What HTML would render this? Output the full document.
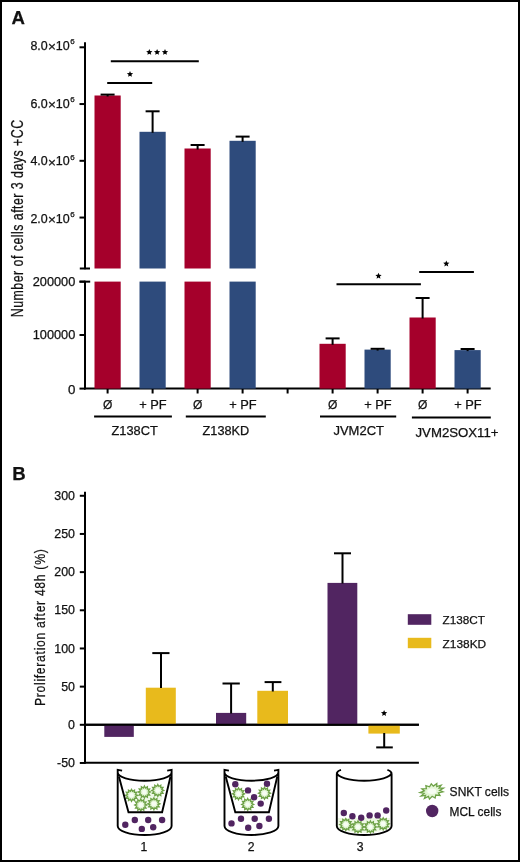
<!DOCTYPE html>
<html><head><meta charset="utf-8"><style>
html,body{margin:0;padding:0;background:#fff;}
svg{display:block;font-family:"Liberation Sans",sans-serif;}
text{fill:#111;stroke:#111;stroke-width:0.25px;}
svg{will-change:transform;}
</style></head><body>
<svg width="520" height="862" viewBox="0 0 520 862">
<rect x="0" y="0" width="520" height="862" fill="#fff"/>
<text x="11.6" y="24" font-size="18.6" text-anchor="start" font-weight="bold" >A</text>
<line x1="85" y1="42.2" x2="85" y2="269.2" stroke="#000" stroke-width="2" stroke-linecap="butt"/>
<line x1="79.5" y1="47.3" x2="85" y2="47.3" stroke="#000" stroke-width="2" stroke-linecap="butt"/>
<text x="30.45" y="50.300000000000004" font-size="12.2" text-anchor="start" font-weight="normal" textLength="17.3" lengthAdjust="spacingAndGlyphs" >8.0</text>
<text x="47.9" y="51.45" font-size="13.6" text-anchor="start" font-weight="normal" >×</text>
<text x="55.7" y="50.300000000000004" font-size="12.2" text-anchor="start" font-weight="normal" textLength="13.9" lengthAdjust="spacingAndGlyphs" >10</text>
<text x="70.3" y="44.45" font-size="8.0" text-anchor="start" font-weight="normal" >6</text>
<line x1="79.5" y1="104.05" x2="85" y2="104.05" stroke="#000" stroke-width="2" stroke-linecap="butt"/>
<text x="30.45" y="107.85" font-size="12.2" text-anchor="start" font-weight="normal" textLength="17.3" lengthAdjust="spacingAndGlyphs" >6.0</text>
<text x="47.9" y="109.0" font-size="13.6" text-anchor="start" font-weight="normal" >×</text>
<text x="55.7" y="107.85" font-size="12.2" text-anchor="start" font-weight="normal" textLength="13.9" lengthAdjust="spacingAndGlyphs" >10</text>
<text x="70.3" y="102.0" font-size="8.0" text-anchor="start" font-weight="normal" >6</text>
<line x1="79.5" y1="160.8" x2="85" y2="160.8" stroke="#000" stroke-width="2" stroke-linecap="butt"/>
<text x="30.45" y="165.45" font-size="12.2" text-anchor="start" font-weight="normal" textLength="17.3" lengthAdjust="spacingAndGlyphs" >4.0</text>
<text x="47.9" y="166.6" font-size="13.6" text-anchor="start" font-weight="normal" >×</text>
<text x="55.7" y="165.45" font-size="12.2" text-anchor="start" font-weight="normal" textLength="13.9" lengthAdjust="spacingAndGlyphs" >10</text>
<text x="70.3" y="159.6" font-size="8.0" text-anchor="start" font-weight="normal" >6</text>
<line x1="79.5" y1="217.55" x2="85" y2="217.55" stroke="#000" stroke-width="2" stroke-linecap="butt"/>
<text x="30.45" y="223.15" font-size="12.2" text-anchor="start" font-weight="normal" textLength="17.3" lengthAdjust="spacingAndGlyphs" >2.0</text>
<text x="47.9" y="224.3" font-size="13.6" text-anchor="start" font-weight="normal" >×</text>
<text x="55.7" y="223.15" font-size="12.2" text-anchor="start" font-weight="normal" textLength="13.9" lengthAdjust="spacingAndGlyphs" >10</text>
<text x="70.3" y="217.3" font-size="8.0" text-anchor="start" font-weight="normal" >6</text>
<line x1="79.8" y1="268.5" x2="90" y2="268.5" stroke="#000" stroke-width="2" stroke-linecap="butt"/>
<line x1="79.5" y1="281.65" x2="90.2" y2="281.65" stroke="#000" stroke-width="2" stroke-linecap="butt"/>
<line x1="85" y1="280.65" x2="85" y2="389.6" stroke="#000" stroke-width="2" stroke-linecap="butt"/>
<line x1="79.5" y1="281.65" x2="85" y2="281.65" stroke="#000" stroke-width="2" stroke-linecap="butt"/>
<text x="32.7" y="285.75" font-size="12" text-anchor="start" font-weight="normal" textLength="42.6" lengthAdjust="spacingAndGlyphs" >200000</text>
<line x1="79.5" y1="335.0" x2="85" y2="335.0" stroke="#000" stroke-width="2" stroke-linecap="butt"/>
<text x="32.7" y="338.9" font-size="12" text-anchor="start" font-weight="normal" textLength="42.6" lengthAdjust="spacingAndGlyphs" >100000</text>
<line x1="79.5" y1="388.6" x2="85" y2="388.6" stroke="#000" stroke-width="2" stroke-linecap="butt"/>
<text x="67.9" y="393.6" font-size="12" text-anchor="start" font-weight="normal" textLength="7.4" lengthAdjust="spacingAndGlyphs" >0</text>
<line x1="84" y1="388.6" x2="490.7" y2="388.6" stroke="#000" stroke-width="2" stroke-linecap="butt"/>
<line x1="107.6" y1="388" x2="107.6" y2="393.5" stroke="#000" stroke-width="2" stroke-linecap="butt"/>
<line x1="152.6" y1="388" x2="152.6" y2="393.5" stroke="#000" stroke-width="2" stroke-linecap="butt"/>
<line x1="197.6" y1="388" x2="197.6" y2="393.5" stroke="#000" stroke-width="2" stroke-linecap="butt"/>
<line x1="242.6" y1="388" x2="242.6" y2="393.5" stroke="#000" stroke-width="2" stroke-linecap="butt"/>
<line x1="287.6" y1="388" x2="287.6" y2="393.5" stroke="#000" stroke-width="2" stroke-linecap="butt"/>
<line x1="332.6" y1="388" x2="332.6" y2="393.5" stroke="#000" stroke-width="2" stroke-linecap="butt"/>
<line x1="377.6" y1="388" x2="377.6" y2="393.5" stroke="#000" stroke-width="2" stroke-linecap="butt"/>
<line x1="422.6" y1="388" x2="422.6" y2="393.5" stroke="#000" stroke-width="2" stroke-linecap="butt"/>
<line x1="467.6" y1="388" x2="467.6" y2="393.5" stroke="#000" stroke-width="2" stroke-linecap="butt"/>
<rect x="94.5" y="95.5" width="26.2" height="173.0" fill="#a5002b"/>
<rect x="94.5" y="281.6" width="26.2" height="107.0" fill="#a5002b"/>
<line x1="107.6" y1="94.6" x2="107.6" y2="96.5" stroke="#000" stroke-width="2" stroke-linecap="butt"/>
<line x1="100.6" y1="94.6" x2="114.6" y2="94.6" stroke="#000" stroke-width="2" stroke-linecap="butt"/>
<rect x="139.5" y="131.8" width="26.2" height="136.7" fill="#2e4b7c"/>
<rect x="139.5" y="281.6" width="26.2" height="107.0" fill="#2e4b7c"/>
<line x1="152.6" y1="111.3" x2="152.6" y2="132.8" stroke="#000" stroke-width="2" stroke-linecap="butt"/>
<line x1="145.6" y1="111.3" x2="159.6" y2="111.3" stroke="#000" stroke-width="2" stroke-linecap="butt"/>
<rect x="184.5" y="148.5" width="26.2" height="120.0" fill="#a5002b"/>
<rect x="184.5" y="281.6" width="26.2" height="107.0" fill="#a5002b"/>
<line x1="197.6" y1="145.0" x2="197.6" y2="149.5" stroke="#000" stroke-width="2" stroke-linecap="butt"/>
<line x1="190.6" y1="145.0" x2="204.6" y2="145.0" stroke="#000" stroke-width="2" stroke-linecap="butt"/>
<rect x="229.5" y="140.8" width="26.2" height="127.69999999999999" fill="#2e4b7c"/>
<rect x="229.5" y="281.6" width="26.2" height="107.0" fill="#2e4b7c"/>
<line x1="242.6" y1="136.6" x2="242.6" y2="141.8" stroke="#000" stroke-width="2" stroke-linecap="butt"/>
<line x1="235.6" y1="136.6" x2="249.6" y2="136.6" stroke="#000" stroke-width="2" stroke-linecap="butt"/>
<rect x="319.5" y="343.8" width="26.2" height="44.80000000000001" fill="#a5002b"/>
<line x1="332.6" y1="338.4" x2="332.6" y2="344.8" stroke="#000" stroke-width="2" stroke-linecap="butt"/>
<line x1="325.6" y1="338.4" x2="339.6" y2="338.4" stroke="#000" stroke-width="2" stroke-linecap="butt"/>
<rect x="364.5" y="349.6" width="26.2" height="39.0" fill="#2e4b7c"/>
<line x1="377.6" y1="348.8" x2="377.6" y2="350.6" stroke="#000" stroke-width="2" stroke-linecap="butt"/>
<line x1="370.6" y1="348.8" x2="384.6" y2="348.8" stroke="#000" stroke-width="2" stroke-linecap="butt"/>
<rect x="409.5" y="317.5" width="26.2" height="71.10000000000002" fill="#a5002b"/>
<line x1="422.6" y1="298.0" x2="422.6" y2="318.5" stroke="#000" stroke-width="2" stroke-linecap="butt"/>
<line x1="415.6" y1="298.0" x2="429.6" y2="298.0" stroke="#000" stroke-width="2" stroke-linecap="butt"/>
<rect x="454.5" y="350.1" width="26.2" height="38.5" fill="#2e4b7c"/>
<line x1="467.6" y1="349.0" x2="467.6" y2="351.1" stroke="#000" stroke-width="2" stroke-linecap="butt"/>
<line x1="460.6" y1="349.0" x2="474.6" y2="349.0" stroke="#000" stroke-width="2" stroke-linecap="butt"/>
<line x1="107.2" y1="83.0" x2="152.2" y2="83.0" stroke="#000" stroke-width="2" stroke-linecap="butt"/>
<polygon points="130.00,70.90 130.87,73.00 133.14,73.18 131.41,74.66 131.94,76.87 130.00,75.69 128.06,76.87 128.59,74.66 126.86,73.18 129.13,73.00" fill="#000"/>
<line x1="110.8" y1="61.2" x2="198.8" y2="61.2" stroke="#000" stroke-width="2" stroke-linecap="butt"/>
<polygon points="149.30,48.90 150.17,51.00 152.44,51.18 150.71,52.66 151.24,54.87 149.30,53.69 147.36,54.87 147.89,52.66 146.16,51.18 148.43,51.00" fill="#000"/>
<polygon points="157.10,48.90 157.97,51.00 160.24,51.18 158.51,52.66 159.04,54.87 157.10,53.69 155.16,54.87 155.69,52.66 153.96,51.18 156.23,51.00" fill="#000"/>
<polygon points="165.00,48.90 165.87,51.00 168.14,51.18 166.41,52.66 166.94,54.87 165.00,53.69 163.06,54.87 163.59,52.66 161.86,51.18 164.13,51.00" fill="#000"/>
<line x1="336.5" y1="284.3" x2="420.9" y2="284.3" stroke="#000" stroke-width="2" stroke-linecap="butt"/>
<polygon points="378.50,272.70 379.37,274.80 381.64,274.98 379.91,276.46 380.44,278.67 378.50,277.49 376.56,278.67 377.09,276.46 375.36,274.98 377.63,274.80" fill="#000"/>
<line x1="419.2" y1="272.1" x2="473.9" y2="272.1" stroke="#000" stroke-width="2" stroke-linecap="butt"/>
<polygon points="446.30,260.50 447.17,262.60 449.44,262.78 447.71,264.26 448.24,266.47 446.30,265.29 444.36,266.47 444.89,264.26 443.16,262.78 445.43,262.60" fill="#000"/>
<text x="107.6" y="409.2" font-size="12" text-anchor="middle" font-weight="normal" >Ø</text>
<text x="197.6" y="409.2" font-size="12" text-anchor="middle" font-weight="normal" >Ø</text>
<text x="332.6" y="409.2" font-size="12" text-anchor="middle" font-weight="normal" >Ø</text>
<text x="422.6" y="409.2" font-size="12" text-anchor="middle" font-weight="normal" >Ø</text>
<text x="152.9" y="409.2" font-size="12" text-anchor="middle" font-weight="normal" textLength="27.5" lengthAdjust="spacingAndGlyphs" >+ PF</text>
<text x="242.9" y="409.2" font-size="12" text-anchor="middle" font-weight="normal" textLength="27.5" lengthAdjust="spacingAndGlyphs" >+ PF</text>
<text x="377.90000000000003" y="409.2" font-size="12" text-anchor="middle" font-weight="normal" textLength="27.5" lengthAdjust="spacingAndGlyphs" >+ PF</text>
<text x="467.90000000000003" y="409.2" font-size="12" text-anchor="middle" font-weight="normal" textLength="27.5" lengthAdjust="spacingAndGlyphs" >+ PF</text>
<line x1="94.1" y1="416.4" x2="171.9" y2="416.4" stroke="#000" stroke-width="2" stroke-linecap="butt"/>
<line x1="185.8" y1="416.4" x2="265.8" y2="416.4" stroke="#000" stroke-width="2" stroke-linecap="butt"/>
<line x1="320.0" y1="416.4" x2="396.2" y2="416.4" stroke="#000" stroke-width="2" stroke-linecap="butt"/>
<line x1="411.9" y1="417.4" x2="490.8" y2="417.4" stroke="#000" stroke-width="2" stroke-linecap="butt"/>
<text x="134.6" y="434.5" font-size="12" text-anchor="middle" font-weight="normal" textLength="46.2" lengthAdjust="spacingAndGlyphs" >Z138CT</text>
<text x="225.9" y="434.8" font-size="12" text-anchor="middle" font-weight="normal" textLength="46.6" lengthAdjust="spacingAndGlyphs" >Z138KD</text>
<text x="358.7" y="434.8" font-size="12" text-anchor="middle" font-weight="normal" textLength="50.5" lengthAdjust="spacingAndGlyphs" >JVM2CT</text>
<text x="457.0" y="437.1" font-size="12" text-anchor="middle" font-weight="normal" textLength="83.0" lengthAdjust="spacingAndGlyphs" >JVM2SOX11+</text>
<text transform="translate(23,317.2) rotate(-90) scale(0.76,1)" x="0" y="0" font-size="16.3" textLength="259.61" lengthAdjust="spacing">Number of cells after 3 days +CC</text>
<text x="12.3" y="479.6" font-size="18.6" text-anchor="start" font-weight="bold" >B</text>
<line x1="85" y1="491.8" x2="85" y2="763.8" stroke="#000" stroke-width="2" stroke-linecap="butt"/>
<line x1="79.8" y1="495.78" x2="85" y2="495.78" stroke="#000" stroke-width="2" stroke-linecap="butt"/>
<text x="75.0" y="499.97999999999996" font-size="12.4" text-anchor="end" font-weight="normal" >300</text>
<line x1="79.8" y1="533.9499999999999" x2="85" y2="533.9499999999999" stroke="#000" stroke-width="2" stroke-linecap="butt"/>
<text x="75.0" y="538.15" font-size="12.4" text-anchor="end" font-weight="normal" >250</text>
<line x1="79.8" y1="572.1199999999999" x2="85" y2="572.1199999999999" stroke="#000" stroke-width="2" stroke-linecap="butt"/>
<text x="75.0" y="576.3199999999999" font-size="12.4" text-anchor="end" font-weight="normal" >200</text>
<line x1="79.8" y1="610.29" x2="85" y2="610.29" stroke="#000" stroke-width="2" stroke-linecap="butt"/>
<text x="75.0" y="614.49" font-size="12.4" text-anchor="end" font-weight="normal" >150</text>
<line x1="79.8" y1="648.4599999999999" x2="85" y2="648.4599999999999" stroke="#000" stroke-width="2" stroke-linecap="butt"/>
<text x="75.0" y="652.66" font-size="12.4" text-anchor="end" font-weight="normal" >100</text>
<line x1="79.8" y1="686.63" x2="85" y2="686.63" stroke="#000" stroke-width="2" stroke-linecap="butt"/>
<text x="75.0" y="690.83" font-size="12.4" text-anchor="end" font-weight="normal" >50</text>
<line x1="79.8" y1="724.8" x2="85" y2="724.8" stroke="#000" stroke-width="2" stroke-linecap="butt"/>
<text x="75.0" y="729.0" font-size="12.4" text-anchor="end" font-weight="normal" >0</text>
<line x1="79.8" y1="762.9699999999999" x2="85" y2="762.9699999999999" stroke="#000" stroke-width="2" stroke-linecap="butt"/>
<text x="75.0" y="767.17" font-size="12.4" text-anchor="end" font-weight="normal" >-50</text>
<line x1="84" y1="724.8" x2="418.9" y2="724.8" stroke="#000" stroke-width="2" stroke-linecap="butt"/>
<line x1="84" y1="762.8" x2="418.9" y2="762.8" stroke="#000" stroke-width="2" stroke-linecap="butt"/>
<rect x="104.3" y="724.8" width="29.5" height="12.100000000000023" fill="#512561"/>
<rect x="145.8" y="687.7" width="30" height="37.09999999999991" fill="#e8ba1c"/>
<line x1="161" y1="653.1" x2="161" y2="688" stroke="#000" stroke-width="2" stroke-linecap="butt"/>
<line x1="152.3" y1="653.1" x2="169.5" y2="653.1" stroke="#000" stroke-width="2" stroke-linecap="butt"/>
<rect x="216" y="712.9" width="30.2" height="11.899999999999977" fill="#512561"/>
<line x1="231.1" y1="683.5" x2="231.1" y2="713.5" stroke="#000" stroke-width="2" stroke-linecap="butt"/>
<line x1="222.5" y1="683.5" x2="239.8" y2="683.5" stroke="#000" stroke-width="2" stroke-linecap="butt"/>
<rect x="257.3" y="690.8" width="30.7" height="34.0" fill="#e8ba1c"/>
<line x1="272.8" y1="682.1" x2="272.8" y2="691.5" stroke="#000" stroke-width="2" stroke-linecap="butt"/>
<line x1="264.6" y1="682.1" x2="281.4" y2="682.1" stroke="#000" stroke-width="2" stroke-linecap="butt"/>
<rect x="327.5" y="582.9" width="29.8" height="141.89999999999998" fill="#512561"/>
<line x1="342.5" y1="553.3" x2="342.5" y2="583.5" stroke="#000" stroke-width="2" stroke-linecap="butt"/>
<line x1="334" y1="553.3" x2="351" y2="553.3" stroke="#000" stroke-width="2" stroke-linecap="butt"/>
<rect x="368.4" y="724.8" width="31.4" height="8.800000000000068" fill="#e8ba1c"/>
<line x1="384.2" y1="733" x2="384.2" y2="747.4" stroke="#000" stroke-width="2" stroke-linecap="butt"/>
<line x1="376.2" y1="747.4" x2="392.8" y2="747.4" stroke="#000" stroke-width="2" stroke-linecap="butt"/>
<polygon points="384.10,710.00 384.97,712.10 387.24,712.28 385.51,713.76 386.04,715.97 384.10,714.78 382.16,715.97 382.69,713.76 380.96,712.28 383.23,712.10" fill="#000"/>
<line x1="84" y1="724.8" x2="418.9" y2="724.8" stroke="#000" stroke-width="2" stroke-linecap="butt"/>
<rect x="407.8" y="614.2" width="23.5" height="10.6" fill="#512561"/>
<rect x="407.8" y="637.8" width="23.5" height="10.4" fill="#e8ba1c"/>
<text x="442.6" y="624.2" font-size="11.8" text-anchor="start" font-weight="normal" textLength="42.4" lengthAdjust="spacingAndGlyphs" >Z138CT</text>
<text x="442.6" y="647.5" font-size="11.8" text-anchor="start" font-weight="normal" textLength="43.6" lengthAdjust="spacingAndGlyphs" >Z138KD</text>
<text transform="translate(45,706.0) rotate(-90) scale(0.8,1)" x="0" y="0" font-size="15.2" textLength="195.87" lengthAdjust="spacing">Proliferation after 48h (%)</text>
<ellipse cx="148" cy="798" rx="14" ry="9" fill="#eef8e6"/>
<polygon points="137.50,795.30 135.46,796.36 136.70,798.30 134.40,798.20 134.50,800.50 132.56,799.26 131.50,801.30 130.44,799.26 128.50,800.50 128.60,798.20 126.30,798.30 127.54,796.36 125.50,795.30 127.54,794.24 126.30,792.30 128.60,792.40 128.50,790.10 130.44,791.34 131.50,789.30 132.56,791.34 134.50,790.10 134.40,792.40 136.70,792.30 135.46,794.24" fill="#e4f6d6" stroke="#6da146" stroke-width="1.3" stroke-linejoin="miter"/>
<ellipse cx="131.5" cy="795.3" rx="2.25" ry="2.25" fill="#f7fdf3"/>
<polygon points="150.40,792.00 148.36,793.06 149.60,795.00 147.30,794.90 147.40,797.20 145.46,795.96 144.40,798.00 143.34,795.96 141.40,797.20 141.50,794.90 139.20,795.00 140.44,793.06 138.40,792.00 140.44,790.94 139.20,789.00 141.50,789.10 141.40,786.80 143.34,788.04 144.40,786.00 145.46,788.04 147.40,786.80 147.30,789.10 149.60,789.00 148.36,790.94" fill="#e4f6d6" stroke="#6da146" stroke-width="1.3" stroke-linejoin="miter"/>
<ellipse cx="144.4" cy="792.0" rx="2.25" ry="2.25" fill="#f7fdf3"/>
<polygon points="163.80,790.40 161.76,791.46 163.00,793.40 160.70,793.30 160.80,795.60 158.86,794.36 157.80,796.40 156.74,794.36 154.80,795.60 154.90,793.30 152.60,793.40 153.84,791.46 151.80,790.40 153.84,789.34 152.60,787.40 154.90,787.50 154.80,785.20 156.74,786.44 157.80,784.40 158.86,786.44 160.80,785.20 160.70,787.50 163.00,787.40 161.76,789.34" fill="#e4f6d6" stroke="#6da146" stroke-width="1.3" stroke-linejoin="miter"/>
<ellipse cx="157.8" cy="790.4" rx="2.25" ry="2.25" fill="#f7fdf3"/>
<polygon points="146.80,805.00 144.76,806.06 146.00,808.00 143.70,807.90 143.80,810.20 141.86,808.96 140.80,811.00 139.74,808.96 137.80,810.20 137.90,807.90 135.60,808.00 136.84,806.06 134.80,805.00 136.84,803.94 135.60,802.00 137.90,802.10 137.80,799.80 139.74,801.04 140.80,799.00 141.86,801.04 143.80,799.80 143.70,802.10 146.00,802.00 144.76,803.94" fill="#e4f6d6" stroke="#6da146" stroke-width="1.3" stroke-linejoin="miter"/>
<ellipse cx="140.8" cy="805.0" rx="2.25" ry="2.25" fill="#f7fdf3"/>
<polygon points="159.90,803.80 157.86,804.86 159.10,806.80 156.80,806.70 156.90,809.00 154.96,807.76 153.90,809.80 152.84,807.76 150.90,809.00 151.00,806.70 148.70,806.80 149.94,804.86 147.90,803.80 149.94,802.74 148.70,800.80 151.00,800.90 150.90,798.60 152.84,799.84 153.90,797.80 154.96,799.84 156.90,798.60 156.80,800.90 159.10,800.80 157.86,802.74" fill="#e4f6d6" stroke="#6da146" stroke-width="1.3" stroke-linejoin="miter"/>
<ellipse cx="153.9" cy="803.8" rx="2.25" ry="2.25" fill="#f7fdf3"/>
<path d="M118.9,776.5 L128.5,812.3 L162.1,812.3 L170.5,776.5" fill="none" stroke="#000" stroke-width="1.9" stroke-linejoin="miter"/>
<circle cx="125.3" cy="824.7" r="3.2" fill="#512561"/>
<circle cx="134.8" cy="820.0" r="3.2" fill="#512561"/>
<circle cx="148.2" cy="820.0" r="3.2" fill="#512561"/>
<circle cx="162.1" cy="820.0" r="3.2" fill="#512561"/>
<circle cx="141.8" cy="828.9" r="3.2" fill="#512561"/>
<circle cx="153.2" cy="827.2" r="3.2" fill="#512561"/>
<path d="M117.7,826 L117.7,769.9 L122.10000000000001,770.6 M171.6,826 L171.6,769.9 L167.2,770.6 M117.7,772.5 A26.949999999999996,8.2 0 0 0 171.6,772.5 M117.7,826 A26.949999999999996,9 0 0 0 171.6,826" fill="none" stroke="#000" stroke-width="1.9"/>
<polygon points="244.50,793.80 242.46,794.86 243.70,796.80 241.40,796.70 241.50,799.00 239.56,797.76 238.50,799.80 237.44,797.76 235.50,799.00 235.60,796.70 233.30,796.80 234.54,794.86 232.50,793.80 234.54,792.74 233.30,790.80 235.60,790.90 235.50,788.60 237.44,789.84 238.50,787.80 239.56,789.84 241.50,788.60 241.40,790.90 243.70,790.80 242.46,792.74" fill="#e4f6d6" stroke="#6da146" stroke-width="1.3" stroke-linejoin="miter"/>
<ellipse cx="238.5" cy="793.8" rx="2.25" ry="2.25" fill="#f7fdf3"/>
<polygon points="253.70,804.40 251.66,805.46 252.90,807.40 250.60,807.30 250.70,809.60 248.76,808.36 247.70,810.40 246.64,808.36 244.70,809.60 244.80,807.30 242.50,807.40 243.74,805.46 241.70,804.40 243.74,803.34 242.50,801.40 244.80,801.50 244.70,799.20 246.64,800.44 247.70,798.40 248.76,800.44 250.70,799.20 250.60,801.50 252.90,801.40 251.66,803.34" fill="#e4f6d6" stroke="#6da146" stroke-width="1.3" stroke-linejoin="miter"/>
<ellipse cx="247.7" cy="804.4" rx="2.25" ry="2.25" fill="#f7fdf3"/>
<polygon points="270.50,793.20 268.46,794.26 269.70,796.20 267.40,796.10 267.50,798.40 265.56,797.16 264.50,799.20 263.44,797.16 261.50,798.40 261.60,796.10 259.30,796.20 260.54,794.26 258.50,793.20 260.54,792.14 259.30,790.20 261.60,790.30 261.50,788.00 263.44,789.24 264.50,787.20 265.56,789.24 267.50,788.00 267.40,790.30 269.70,790.20 268.46,792.14" fill="#e4f6d6" stroke="#6da146" stroke-width="1.3" stroke-linejoin="miter"/>
<ellipse cx="264.5" cy="793.2" rx="2.25" ry="2.25" fill="#f7fdf3"/>
<circle cx="235.3" cy="784.3" r="3.2" fill="#512561"/>
<circle cx="248.0" cy="790.4" r="3.2" fill="#512561"/>
<circle cx="254.1" cy="797.2" r="3.2" fill="#512561"/>
<circle cx="260.7" cy="803.6" r="3.2" fill="#512561"/>
<circle cx="267.0" cy="783.7" r="3.2" fill="#512561"/>
<path d="M225.7,776.5 L235.3,812.3 L268.9,812.3 L277.29999999999995,776.5" fill="none" stroke="#000" stroke-width="1.9" stroke-linejoin="miter"/>
<circle cx="231.5" cy="823.4" r="3.2" fill="#512561"/>
<circle cx="241.0" cy="818.7" r="3.2" fill="#512561"/>
<circle cx="254.7" cy="818.7" r="3.2" fill="#512561"/>
<circle cx="268.9" cy="818.7" r="3.2" fill="#512561"/>
<circle cx="248.2" cy="827.8" r="3.2" fill="#512561"/>
<circle cx="259.4" cy="826.0" r="3.2" fill="#512561"/>
<path d="M224.5,826 L224.5,769.9 L228.9,770.6 M278.4,826 L278.4,769.9 L274.0,770.6 M224.5,772.5 A26.94999999999999,8.2 0 0 0 278.4,772.5 M224.5,826 A26.94999999999999,9 0 0 0 278.4,826" fill="none" stroke="#000" stroke-width="1.9"/>
<path d="M338,818 L390,818 L390,827 A27,8 0 0 1 338,827 Z" fill="#eef8e4"/>
<polygon points="351.80,824.60 349.76,825.66 351.00,827.60 348.70,827.50 348.80,829.80 346.86,828.56 345.80,830.60 344.74,828.56 342.80,829.80 342.90,827.50 340.60,827.60 341.84,825.66 339.80,824.60 341.84,823.54 340.60,821.60 342.90,821.70 342.80,819.40 344.74,820.64 345.80,818.60 346.86,820.64 348.80,819.40 348.70,821.70 351.00,821.60 349.76,823.54" fill="#e4f6d6" stroke="#6da146" stroke-width="1.3" stroke-linejoin="miter"/>
<ellipse cx="345.8" cy="824.6" rx="2.25" ry="2.25" fill="#f7fdf3"/>
<polygon points="364.00,826.90 361.96,827.96 363.20,829.90 360.90,829.80 361.00,832.10 359.06,830.86 358.00,832.90 356.94,830.86 355.00,832.10 355.10,829.80 352.80,829.90 354.04,827.96 352.00,826.90 354.04,825.84 352.80,823.90 355.10,824.00 355.00,821.70 356.94,822.94 358.00,820.90 359.06,822.94 361.00,821.70 360.90,824.00 363.20,823.90 361.96,825.84" fill="#e4f6d6" stroke="#6da146" stroke-width="1.3" stroke-linejoin="miter"/>
<ellipse cx="358.0" cy="826.9" rx="2.25" ry="2.25" fill="#f7fdf3"/>
<polygon points="376.40,826.90 374.36,827.96 375.60,829.90 373.30,829.80 373.40,832.10 371.46,830.86 370.40,832.90 369.34,830.86 367.40,832.10 367.50,829.80 365.20,829.90 366.44,827.96 364.40,826.90 366.44,825.84 365.20,823.90 367.50,824.00 367.40,821.70 369.34,822.94 370.40,820.90 371.46,822.94 373.40,821.70 373.30,824.00 375.60,823.90 374.36,825.84" fill="#e4f6d6" stroke="#6da146" stroke-width="1.3" stroke-linejoin="miter"/>
<ellipse cx="370.4" cy="826.9" rx="2.25" ry="2.25" fill="#f7fdf3"/>
<polygon points="389.20,823.80 387.16,824.86 388.40,826.80 386.10,826.70 386.20,829.00 384.26,827.76 383.20,829.80 382.14,827.76 380.20,829.00 380.30,826.70 378.00,826.80 379.24,824.86 377.20,823.80 379.24,822.74 378.00,820.80 380.30,820.90 380.20,818.60 382.14,819.84 383.20,817.80 384.26,819.84 386.20,818.60 386.10,820.90 388.40,820.80 387.16,822.74" fill="#e4f6d6" stroke="#6da146" stroke-width="1.3" stroke-linejoin="miter"/>
<ellipse cx="383.2" cy="823.8" rx="2.25" ry="2.25" fill="#f7fdf3"/>
<circle cx="343.8" cy="813.0" r="3.2" fill="#512561"/>
<circle cx="352.4" cy="816.2" r="3.2" fill="#512561"/>
<circle cx="361.2" cy="817.7" r="3.2" fill="#512561"/>
<circle cx="369.6" cy="815.4" r="3.2" fill="#512561"/>
<circle cx="377.6" cy="815.4" r="3.2" fill="#512561"/>
<circle cx="386.2" cy="810.5" r="3.2" fill="#512561"/>
<path d="M336.8,826 L336.8,774 Q336.8,771.2 341.0,769.9 M391.6,826 L391.6,774 Q391.6,771.2 387.40000000000003,769.9 M336.8,772.5 A27.400000000000006,8.2 0 0 0 391.6,772.5 M336.8,826 A27.400000000000006,9 0 0 0 391.6,826" fill="none" stroke="#000" stroke-width="1.9"/>
<text x="143.85" y="850.6" font-size="12.2" text-anchor="middle" font-weight="normal" >1</text>
<text x="251.1" y="850.6" font-size="12.2" text-anchor="middle" font-weight="normal" >2</text>
<text x="360.1" y="850.6" font-size="12.2" text-anchor="middle" font-weight="normal" >3</text>
<polygon points="443.39,788.19 439.61,790.44 442.96,791.89 438.44,792.93 439.97,795.45 435.74,795.05 435.11,798.06 432.14,796.31 429.49,799.12 428.47,796.42 424.40,798.39 425.55,795.36 421.01,796.04 424.07,793.37 420.08,792.60 424.36,790.91 421.85,788.86 426.35,788.53 425.89,785.68 429.59,786.79 431.29,783.79 433.34,786.09 436.80,783.62 436.73,786.57 441.17,785.21 439.00,788.14" fill="#e4f6d6" stroke="#6da146" stroke-width="1.3" stroke-linejoin="miter"/>
<ellipse cx="431.8" cy="791.3" rx="4.40" ry="2.73" fill="#f7fdf3"/>
<circle cx="432.2" cy="811.0" r="6.2" fill="#512561"/>
<text x="449.6" y="795.5" font-size="12" text-anchor="start" font-weight="normal" textLength="59.4" lengthAdjust="spacingAndGlyphs" >SNKT cells</text>
<text x="449.6" y="815.6" font-size="12" text-anchor="start" font-weight="normal" textLength="51.8" lengthAdjust="spacingAndGlyphs" >MCL cells</text>
<rect x="1" y="1" width="518" height="860" fill="none" stroke="#000" stroke-width="2"/>
</svg>
</body></html>
